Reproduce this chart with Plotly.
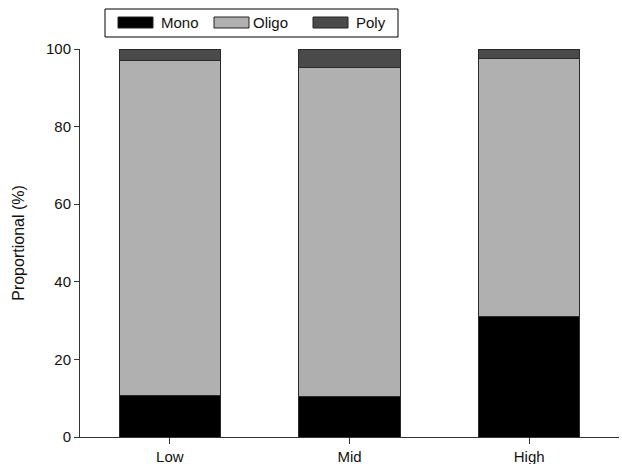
import plotly.graph_objects as go

categories = ["Low", "Mid", "High"]
mono = [10.8, 10.5, 31.0]
oligo = [86.3, 84.7, 66.5]
poly = [2.9, 4.8, 2.5]
series_names = ["Mono", "Oligo", "Poly"]
series_colors = ["#000000", "#b0b0b0", "#4a4a4a"]
y_ticks = [0, 20, 40, 60, 80, 100]

W, H = 622, 464
L, R, T, B = 80, 3, 49, 27
pw, ph = W - L - R, H - T - B

def px(x):
    return (x - L) / pw

def py(y):
    return (H - B - y) / ph

FONT = "Liberation Sans, Arial, sans-serif"

fig = go.Figure()
for name, vals, col in zip(series_names, [mono, oligo, poly], series_colors):
    fig.add_trace(go.Bar(
        x=categories, y=vals, name=name,
        marker=dict(color=col, line=dict(color="#2a2a2a", width=1)),
        width=0.565, showlegend=False,
    ))

# custom legend box
shapes = [dict(type="rect", xref="paper", yref="paper",
               x0=px(105), x1=px(398), y0=py(37), y1=py(9),
               line=dict(color="#000000", width=1), fillcolor="white")]
annotations = []
sw_x = [118, 214, 313]
tx_x = [159, 251, 354]
for name, col, sx, tx in zip(series_names, series_colors, sw_x, tx_x):
    shapes.append(dict(type="rect", xref="paper", yref="paper",
                       x0=px(sx), x1=px(sx + 35), y0=py(28), y1=py(17),
                       line=dict(color="#222222", width=1), fillcolor=col))
    annotations.append(dict(text=name, xref="paper", yref="paper",
                            x=px(tx), y=py(22.5), xanchor="left", yanchor="middle",
                            showarrow=False, font=dict(family=FONT, size=15, color="#111")))

fig.update_layout(
    width=W, height=H,
    margin=dict(l=L, r=R, t=T, b=B),
    barmode="stack",
    plot_bgcolor="white", paper_bgcolor="white",
    font=dict(family=FONT, size=15, color="#111"),
    shapes=shapes, annotations=annotations,
    xaxis=dict(range=[-0.5, 2.5], showline=True, linecolor="#333", linewidth=1,
               ticks="outside", ticklen=6, tickcolor="#333", showgrid=False,
               tickfont=dict(size=15), automargin=False),
    yaxis=dict(range=[0, 100], tickvals=y_ticks, showline=True, linecolor="#333",
               linewidth=1, ticks="outside", ticklen=5, tickcolor="#333",
               showgrid=False, zeroline=False, tickfont=dict(size=15), automargin=False,
               title=dict(text="Proportional (%)", font=dict(size=16), standoff=17)),
)

fig.write_html("out.html", config={"displayModeBar": False},
               post_script="document.body.style.margin='0';document.body.style.overflow='hidden';")
